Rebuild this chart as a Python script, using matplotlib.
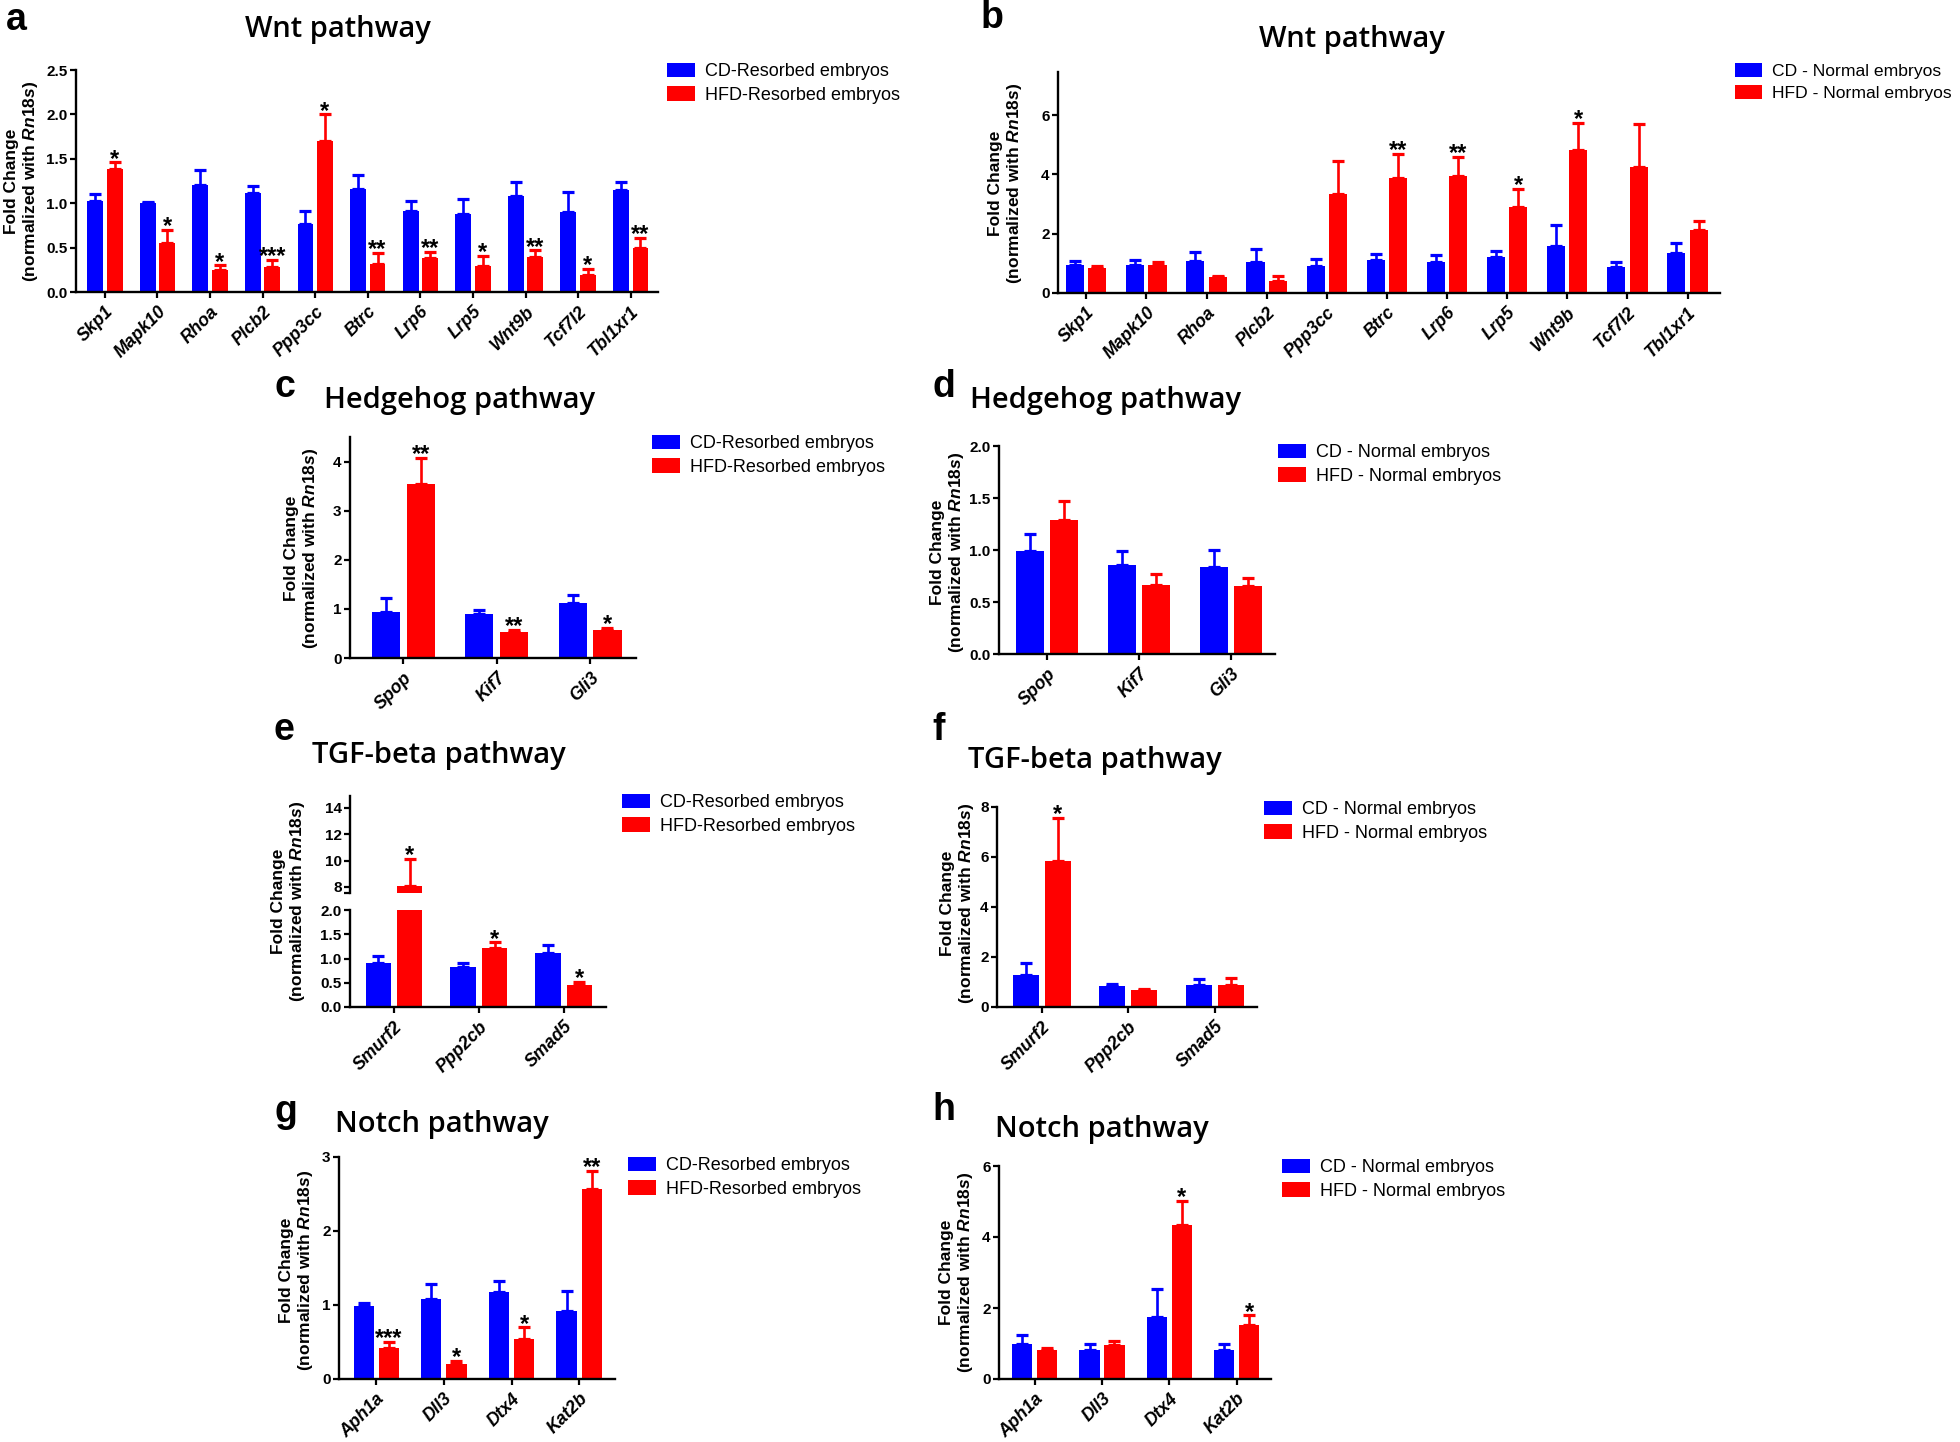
import matplotlib
matplotlib.use("Agg")
import matplotlib.pyplot as plt
from matplotlib.patches import Patch
from matplotlib.ticker import FormatStrFormatter, FixedLocator
import numpy as np

plt.rcParams['font.family'] = ['Liberation Sans', 'DejaVu Sans']
plt.rcParams['mathtext.fontset'] = 'custom'
plt.rcParams['mathtext.it'] = 'Liberation Sans:italic:bold'
plt.rcParams['mathtext.rm'] = 'Liberation Sans:bold'
plt.rcParams['mathtext.bf'] = 'Liberation Sans:bold'

W, H = 1960, 1442
BLUE = '#0000FF'
RED = '#FF0000'

# ---------------- data ----------------
wnt_genes = ['Skp1', 'Mapk10', 'Rhoa', 'Plcb2', 'Ppp3cc', 'Btrc', 'Lrp6', 'Lrp5', 'Wnt9b', 'Tcf7l2', 'Tbl1xr1']
a_cd = [1.02, 1.00, 1.21, 1.12, 0.77, 1.16, 0.91, 0.88, 1.08, 0.90, 1.15]
a_cd_err = [0.08, 0.01, 0.16, 0.07, 0.14, 0.16, 0.11, 0.17, 0.16, 0.23, 0.09]
a_hfd = [1.38, 0.55, 0.25, 0.28, 1.70, 0.32, 0.38, 0.29, 0.39, 0.19, 0.50]
a_hfd_err = [0.08, 0.15, 0.05, 0.08, 0.30, 0.12, 0.07, 0.12, 0.08, 0.07, 0.11]
a_sig = ['*', '*', '*', '***', '*', '**', '**', '*', '**', '*', '**']

b_cd = [0.93, 0.95, 1.08, 1.04, 0.90, 1.12, 1.04, 1.20, 1.60, 0.86, 1.35]
b_cd_err = [0.14, 0.17, 0.30, 0.44, 0.25, 0.20, 0.25, 0.20, 0.70, 0.17, 0.35]
b_hfd = [0.83, 0.93, 0.53, 0.39, 3.33, 3.87, 3.96, 2.91, 4.82, 4.26, 2.13]
b_hfd_err = [0.07, 0.10, 0.05, 0.19, 1.13, 0.83, 0.64, 0.59, 0.92, 1.45, 0.30]
b_sig = ['', '', '', '', '', '**', '**', '*', '*', '', '']

hh_genes = ['Spop', 'Kif7', 'Gli3']
c_cd = [0.94, 0.90, 1.12]
c_cd_err = [0.29, 0.07, 0.17]
c_hfd = [3.55, 0.52, 0.56]
c_hfd_err = [0.52, 0.06, 0.06]
c_sig = ['**', '**', '*']

d_cd = [0.99, 0.86, 0.84]
d_cd_err = [0.16, 0.13, 0.16]
d_hfd = [1.29, 0.66, 0.65]
d_hfd_err = [0.18, 0.11, 0.08]
d_sig = ['', '', '']

tgf_genes = ['Smurf2', 'Ppp2cb', 'Smad5']
e_cd = [0.91, 0.82, 1.11]
e_cd_err = [0.14, 0.09, 0.17]
e_hfd = [8.1, 1.22, 0.45]
e_hfd_err = [2.05, 0.11, 0.07]
e_sig = ['*', '*', '*']

f_cd = [1.27, 0.84, 0.90]
f_cd_err = [0.51, 0.10, 0.22]
f_hfd = [5.85, 0.67, 0.90]
f_hfd_err = [1.72, 0.06, 0.27]
f_sig = ['*', '', '']

notch_genes = ['Aph1a', 'Dll3', 'Dtx4', 'Kat2b']
g_cd = [0.98, 1.08, 1.17, 0.92]
g_cd_err = [0.05, 0.21, 0.16, 0.27]
g_hfd = [0.42, 0.20, 0.54, 2.57]
g_hfd_err = [0.08, 0.05, 0.16, 0.24]
g_sig = ['***', '*', '*', '**']

h_cd = [0.99, 0.82, 1.75, 0.81]
h_cd_err = [0.24, 0.17, 0.79, 0.18]
h_hfd = [0.81, 0.96, 4.35, 1.52]
h_hfd_err = [0.05, 0.12, 0.67, 0.27]
h_sig = ['', '', '*', '*']

resorbed_labels = ['CD-Resorbed embryos', 'HFD-Resorbed embryos']
normal_labels = ['CD - Normal embryos', 'HFD - Normal embryos']
YLABEL = 'Fold Change\n(normalized with $Rn18s$)'

# ---------------- helpers ----------------
fig = plt.figure(figsize=(W / 100, H / 100), dpi=100)

STAR_SIZE = 17
YTICK_SIZE = 11


def make_ax(l, r, t, b):
    return fig.add_axes([l / W, 1 - b / H, (r - l) / W, (b - t) / H])


def style_ax(ax, bottom=True):
    for s in ['top', 'right']:
        ax.spines[s].set_visible(False)
    ax.spines['left'].set_linewidth(1.7)
    ax.spines['bottom'].set_linewidth(1.7)
    if not bottom:
        ax.spines['bottom'].set_visible(False)
    ax.tick_params(axis='both', direction='out', length=4.5, width=1.6, colors='black')
    ax.tick_params(axis='y', pad=1.5)


BW = 0.30
OFF = 0.185


def star(ax, x, y, s):
    ax.annotate(s, (x, y), xytext=(0, -6), textcoords='offset points',
                ha='center', va='bottom', fontsize=STAR_SIZE, fontweight='bold',
                annotation_clip=False)


def draw_bars(ax, genes, cd, cd_err, hfd, hfd_err, sig):
    x = np.arange(len(genes))
    ax.bar(x - OFF, cd, width=BW, color=BLUE, linewidth=0, zorder=2)
    ax.bar(x + OFF, hfd, width=BW, color=RED, linewidth=0, zorder=2)
    zeros = np.zeros(len(genes))
    ax.errorbar(x - OFF, cd, yerr=[zeros, cd_err], fmt='none', ecolor=BLUE,
                elinewidth=1.9, capsize=4.5, capthick=2.3, zorder=1)
    ax.errorbar(x + OFF, hfd, yerr=[zeros, hfd_err], fmt='none', ecolor=RED,
                elinewidth=1.9, capsize=4.5, capthick=2.3, zorder=1)
    for i, s in enumerate(sig):
        if s:
            star(ax, x[i] + OFF, hfd[i] + hfd_err[i], s)
    return x


def set_xaxis(ax, genes, xlim):
    ax.set_xlim(*xlim)
    ax.set_xticks(np.arange(len(genes)))
    ax.set_xticklabels(genes, rotation=45, ha='right', rotation_mode='anchor',
                       fontsize=12.8, fontweight='bold', fontstyle='italic')
    ax.tick_params(axis='x', pad=3.5)


def add_legend(xpx, ypx, labels, fs=13):
    handles = [Patch(facecolor=BLUE, edgecolor=BLUE, linewidth=0),
               Patch(facecolor=RED, edgecolor=RED, linewidth=0)]
    fig.legend(handles, labels, loc='upper left',
               bbox_to_anchor=(xpx / W, 1 - ypx / H), bbox_transform=fig.transFigure,
               frameon=False, fontsize=fs, borderpad=0, borderaxespad=0,
               handlelength=1.55, handleheight=0.85, handletextpad=0.55,
               labelspacing=0.32)


def add_ylabel(xpx, ypx):
    fig.text(xpx / W, 1 - ypx / H, YLABEL, rotation=90, ha='center', va='center',
             multialignment='center', fontsize=12.5, fontweight='bold', linespacing=1.15)


def add_title(xpx, ypx, txt):
    fig.text(xpx / W, 1 - ypx / H, txt, ha='left', va='baseline', fontsize=21,
             family=['Open Sans', 'DejaVu Sans'], fontweight='semibold')


def add_letter(xpx, ypx, txt):
    fig.text(xpx / W, 1 - ypx / H, txt, ha='left', va='baseline', fontsize=27,
             fontweight='bold')


def fmt_y(ax, ticks, fmt):
    ax.yaxis.set_major_locator(FixedLocator(ticks))
    ax.yaxis.set_major_formatter(FormatStrFormatter(fmt))
    ax.tick_params(axis='y', labelsize=YTICK_SIZE)
    for lab in ax.get_yticklabels():
        lab.set_fontweight('bold')


# ---------------- panel a ----------------
ax = make_ax(76, 658, 70, 292)
draw_bars(ax, wnt_genes, a_cd, a_cd_err, a_hfd, a_hfd_err, a_sig)
ax.set_ylim(0, 2.5)
set_xaxis(ax, wnt_genes, (-0.55, 10.52))
fmt_y(ax, [0, 0.5, 1.0, 1.5, 2.0, 2.5], '%.1f')
style_ax(ax)
add_legend(667, 63, resorbed_labels)
add_ylabel(22, 181)
add_title(245, 37, 'Wnt pathway')
add_letter(6, 30, 'a')

# ---------------- panel b ----------------
ax = make_ax(1058, 1720, 72, 293)
draw_bars(ax, wnt_genes, b_cd, b_cd_err, b_hfd, b_hfd_err, b_sig)
ax.set_ylim(0, 7.45)
set_xaxis(ax, wnt_genes, (-0.47, 10.54))
fmt_y(ax, [0, 2, 4, 6], '%d')
style_ax(ax)
add_legend(1735, 63, normal_labels, fs=12.6)
add_ylabel(1006, 183)
add_title(1259, 47, 'Wnt pathway')
add_letter(981, 28, 'b')

# ---------------- panel c ----------------
ax = make_ax(350, 636, 437, 658)
draw_bars(ax, hh_genes, c_cd, c_cd_err, c_hfd, c_hfd_err, c_sig)
ax.set_ylim(0, 4.5)
set_xaxis(ax, hh_genes, (-0.57, 2.49))
fmt_y(ax, [0, 1, 2, 3, 4], '%d')
style_ax(ax)
add_legend(652, 435, resorbed_labels)
add_ylabel(302, 548)
add_title(324, 408, 'Hedgehog pathway')
add_letter(275, 397, 'c')

# ---------------- panel d ----------------
ax = make_ax(999, 1275, 446, 654)
draw_bars(ax, hh_genes, d_cd, d_cd_err, d_hfd, d_hfd_err, d_sig)
ax.set_ylim(0, 2.0)
set_xaxis(ax, hh_genes, (-0.52, 2.48))
fmt_y(ax, [0, 0.5, 1.0, 1.5, 2.0], '%.1f')
style_ax(ax)
add_legend(1278, 444, normal_labels)
add_ylabel(948, 552)
add_title(970, 408, 'Hedgehog pathway')
add_letter(932, 397, 'd')

# ---------------- panel e (broken axis) ----------------
ax_up = make_ax(350, 606, 796, 893)
ax_lo = make_ax(350, 606, 910, 1007)
x_e = np.arange(len(tgf_genes))
for axx in (ax_up, ax_lo):
    axx.bar(x_e - OFF, e_cd, width=BW, color=BLUE, linewidth=0, zorder=2)
    axx.bar(x_e + OFF, e_hfd, width=BW, color=RED, linewidth=0, zorder=2)
    z = np.zeros(len(tgf_genes))
    axx.errorbar(x_e - OFF, e_cd, yerr=[z, e_cd_err], fmt='none', ecolor=BLUE,
                 elinewidth=1.9, capsize=4.5, capthick=2.3, zorder=1)
    axx.errorbar(x_e + OFF, e_hfd, yerr=[z, e_hfd_err], fmt='none', ecolor=RED,
                 elinewidth=1.9, capsize=4.5, capthick=2.3, zorder=1)
for i, s in enumerate(e_sig):
    top = e_hfd[i] + e_hfd_err[i]
    if s:
        star(ax_lo if top <= 2.0 else ax_up, i + OFF, top, s)
ax_up.set_ylim(7.54, 14.91)
ax_lo.set_ylim(0, 2.0)
ax_up.set_xlim(-0.52, 2.5)
ax_up.set_xticks([])
fmt_y(ax_up, [8, 10, 12, 14], '%d')
ax_up.yaxis.set_minor_locator(FixedLocator([7.54]))
ax_up.tick_params(axis='y', which='minor', length=4.5, width=1.6)
set_xaxis(ax_lo, tgf_genes, (-0.52, 2.5))
fmt_y(ax_lo, [0, 0.5, 1.0, 1.5, 2.0], '%.1f')
style_ax(ax_up, bottom=False)
style_ax(ax_lo)
add_legend(622, 794, resorbed_labels)
add_ylabel(289, 901)
add_title(312, 763, 'TGF-beta pathway')
add_letter(273, 740, 'e')

# ---------------- panel f ----------------
ax = make_ax(997, 1257, 807, 1007)
draw_bars(ax, tgf_genes, f_cd, f_cd_err, f_hfd, f_hfd_err, f_sig)
ax.set_ylim(0, 8)
set_xaxis(ax, tgf_genes, (-0.52, 2.49))
fmt_y(ax, [0, 2, 4, 6, 8], '%d')
style_ax(ax)
add_legend(1264, 801, normal_labels)
add_ylabel(958, 903)
add_title(968, 768, 'TGF-beta pathway')
add_letter(932, 740, 'f')

# ---------------- panel g ----------------
ax = make_ax(339, 615, 1157, 1379)
draw_bars(ax, notch_genes, g_cd, g_cd_err, g_hfd, g_hfd_err, g_sig)
ax.set_ylim(0, 3)
set_xaxis(ax, notch_genes, (-0.55, 3.53))
fmt_y(ax, [0, 1, 2, 3], '%d')
style_ax(ax)
add_legend(628, 1157, resorbed_labels)
add_ylabel(297, 1270)
add_title(335, 1132, 'Notch pathway')
add_letter(275, 1122, 'g')

# ---------------- panel h ----------------
ax = make_ax(999, 1271, 1166, 1379)
draw_bars(ax, notch_genes, h_cd, h_cd_err, h_hfd, h_hfd_err, h_sig)
ax.set_ylim(0, 6)
set_xaxis(ax, notch_genes, (-0.53, 3.51))
fmt_y(ax, [0, 2, 4, 6], '%d')
style_ax(ax)
add_legend(1282, 1159, normal_labels)
add_ylabel(957, 1272)
add_title(995, 1137, 'Notch pathway')
add_letter(932, 1120, 'h')

fig.savefig('out.png', dpi=100)
